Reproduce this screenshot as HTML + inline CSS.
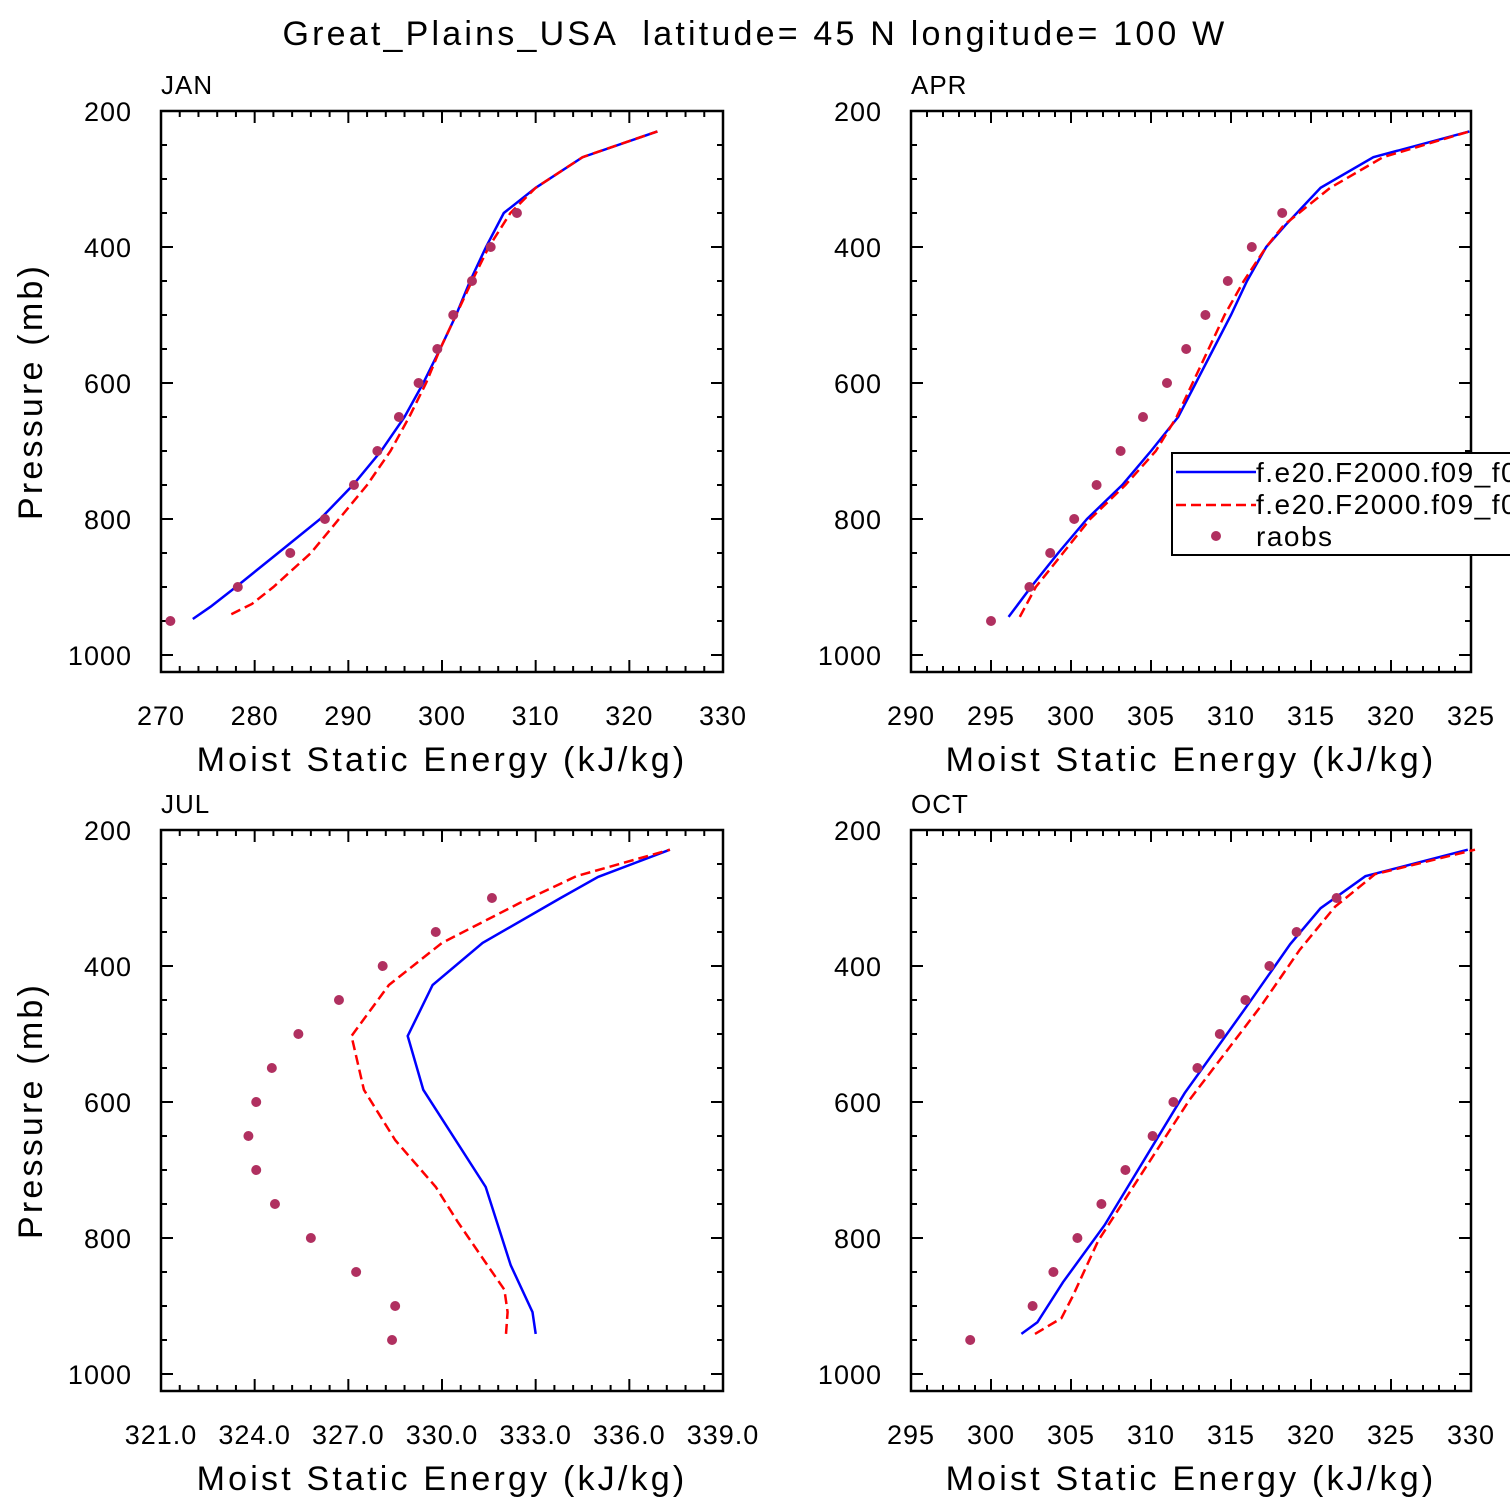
<!DOCTYPE html>
<html><head><meta charset="utf-8"><style>
body{margin:0;background:#fff}
svg{display:block;font-family:"Liberation Sans",sans-serif}
</style></head><body>
<svg id="c" width="1510" height="1510" viewBox="0 0 1510 1510" xmlns="http://www.w3.org/2000/svg">
<text x="755" y="45" font-size="34" text-anchor="middle" letter-spacing="3.2" style="white-space:pre">Great_Plains_USA  latitude= 45 N longitude= 100 W</text>
</svg>
<script>
// JAN
const janBlueP=[947,929,900,850,800,750,700,650,600,550,500,450,400,350,313,268,230];
const janBlueX=[273.4,275.3,278,282.5,287,290.5,293.5,296,298,299.8,301.5,303,304.7,306.6,310,315,323];
const janRedP=[940,925,900,850,800,750,700,650,600,550,500,450,400,350,313,268,230];
const janRedX=[277.5,279.7,282,286,289,292,294.5,296.5,298.3,299.8,301.5,303.2,305,307.3,310,315,323];
const janObsP=[950,900,850,800,750,700,650,600,550,500,450,400,350];
const janObsX=[271,278.2,283.8,287.5,290.6,293.1,295.4,297.5,299.5,301.2,303.2,305.2,308];
// APR
const aprBlueP=[944,900,850,800,750,700,650,600,550,500,450,400,368,313,268,230];
const aprBlueX=[296.1,297.5,299.2,301.0,303.2,305.0,306.7,307.8,308.9,310.0,311.0,312.2,313.4,315.6,318.9,324.9];
const aprRedP=[944,900,850,800,750,700,650,600,550,500,450,400,368,313,268,230];
const aprRedX=[296.8,297.8,299.5,301.2,303.4,305.3,306.6,307.6,308.6,309.6,310.8,312.2,313.3,316.2,319.5,324.9];
const aprObsP=[950,900,850,800,750,700,650,600,550,500,450,400,350];
const aprObsX=[295.0,297.4,298.7,300.2,301.6,303.1,304.5,306.0,307.2,308.4,309.8,311.3,313.2];
// JUL
const julBlueP=[941,909,840,725,582,503,428,366,300,269,229];
const julBlueX=[333.0,332.9,332.2,331.4,329.4,328.9,329.7,331.3,333.8,335.0,337.3];
const julRedP=[941,909,876,843,776,725,656,582,503,428,366,307,268,229];
const julRedX=[332.05,332.1,332.0,331.5,330.5,329.8,328.5,327.5,327.1,328.3,330.0,332.5,334.3,337.3];
const julObsP=[950,900,850,800,750,700,650,600,550,500,450,400,350,300];
const julObsX=[328.4,328.5,327.25,325.8,324.65,324.05,323.8,324.05,324.55,325.4,326.7,328.1,329.8,331.6];
// OCT
const octBlueP=[941,924,865,781,587,462,368,315,268,229];
const octBlueX=[301.9,302.9,304.5,307.1,312.1,315.9,318.7,320.6,323.4,329.8];
const octRedP=[941,918,886,804,597,458,376,313,265,229];
const octRedX=[302.75,304.4,305.1,306.7,312.4,316.9,319.3,321.5,324.0,330.25];
const octObsP=[950,900,850,800,750,700,650,600,550,500,450,400,350,300];
const octObsX=[298.7,302.6,303.9,305.4,306.9,308.4,310.1,311.4,312.9,314.3,315.9,317.4,319.1,321.6];

const NS='http://www.w3.org/2000/svg';
const svg=document.getElementById('c');
function mk(tag,attrs,parent){const e=document.createElementNS(NS,tag);for(const k in attrs)e.setAttribute(k,attrs[k]);(parent||svg).appendChild(e);return e;}

const panels=[
 {id:'jan',label:'JAN',x0:161,x1:723,y0:111,xmin:270,xmax:330,maj:10,min:2,dec:0,bx:janBlueX,bp:janBlueP,rx:janRedX,rp:janRedP,ox:janObsX,op:janObsP,ylab:true},
 {id:'apr',label:'APR',x0:911,x1:1471,y0:111,xmin:290,xmax:325,maj:5,min:1,dec:0,bx:aprBlueX,bp:aprBlueP,rx:aprRedX,rp:aprRedP,ox:aprObsX,op:aprObsP,ylab:false,legend:true},
 {id:'jul',label:'JUL',x0:161,x1:723,y0:830,xmin:321,xmax:339,maj:3,min:0.6,dec:1,bx:julBlueX,bp:julBlueP,rx:julRedX,rp:julRedP,ox:julObsX,op:julObsP,ylab:true},
 {id:'oct',label:'OCT',x0:911,x1:1471,y0:830,xmin:295,xmax:330,maj:5,min:1,dec:0,bx:octBlueX,bp:octBlueP,rx:octRedX,rp:octRedP,ox:octObsX,op:octObsP,ylab:false}
];
const pxPerMb=0.68, pTop=200, pBot=1025;

panels.forEach(P=>{
 const g=mk('g',{});
 
 
 const sx=v=>P.x0+(v-P.xmin)/(P.xmax-P.xmin)*(P.x1-P.x0);
 const sy=p=>P.y0+(p-pTop)*pxPerMb;
 const yb=sy(pBot);
 const box=mk('rect',{x:P.x0,y:P.y0,width:P.x1-P.x0,height:yb-P.y0,fill:'none',stroke:'#000','stroke-width':2.5},g);
 
 
 const lab=mk('text',{x:P.x0,y:P.y0-17,'font-size':26,'letter-spacing':1},g);lab.textContent=P.label;
 
 
 const n=Math.round((P.xmax-P.xmin)/P.min);
 for(let i=0;i<=n;i++){
  const v=P.xmin+i*P.min, X=sx(v);
  const major=Math.abs(((v-P.xmin)/P.maj)-Math.round((v-P.xmin)/P.maj))<1e-6;
  const L=major?12:6;
  mk('line',{x1:X,y1:yb,x2:X,y2:yb-L,stroke:'#000','stroke-width':2},g);
  mk('line',{x1:X,y1:P.y0,x2:X,y2:P.y0+L,stroke:'#000','stroke-width':2},g);
  if(major){const t=mk('text',{x:X,y:yb+53,'font-size':27,'letter-spacing':1,'text-anchor':'middle'},g);t.textContent=v.toFixed(P.dec);
   
   }
 }
 for(let p=200;p<=1000;p+=50){
  const Y=sy(p), major=p%200===0, L=major?12:6;
  mk('line',{x1:P.x0,y1:Y,x2:P.x0+L,y2:Y,stroke:'#000','stroke-width':2},g);
  mk('line',{x1:P.x1,y1:Y,x2:P.x1-L,y2:Y,stroke:'#000','stroke-width':2},g);
  if(major){const t=mk('text',{x:P.x0-29,y:Y+10,'font-size':27,'letter-spacing':1,'text-anchor':'end'},g);t.textContent=p;
   
   }
 }
 const xt=mk('text',{x:(P.x0+P.x1)/2,y:yb+99,'font-size':34,'text-anchor':'middle','letter-spacing':3.2},g);xt.textContent='Moist Static Energy (kJ/kg)';
 
 
 if(P.ylab){const cy=(P.y0+yb)/2;const t=mk('text',{x:0,y:0,'font-size':34,'text-anchor':'middle','letter-spacing':3.2,transform:`translate(42,${cy}) rotate(-90)`},g);t.textContent='Pressure (mb)';
  
  }
 const path=(xs,ps)=>xs.map((v,i)=>(i?'L':'M')+sx(v).toFixed(1)+' '+sy(ps[i]).toFixed(1)).join(' ');
 const b=mk('path',{d:path(P.bx,P.bp),fill:'none',stroke:'#0000ff','stroke-width':2.5},g);
 
 
 const r=mk('path',{d:path(P.rx,P.rp),fill:'none',stroke:'#ff0000','stroke-width':2.5,'stroke-dasharray':'10 5'},g);
 
 
 P.ox.forEach((v,i)=>{const c=mk('circle',{cx:sx(v),cy:sy(P.op[i]),r:5,fill:'#b03060'},g);
  
  });
 if(P.legend){
  const lg=mk('g',{},g);
  
  
  mk('rect',{x:1172,y:453,width:360,height:102,fill:'#fff',stroke:'#000','stroke-width':2},lg);
  mk('line',{x1:1176,y1:472,x2:1256,y2:472,stroke:'#0000ff','stroke-width':2.5},lg);
  mk('line',{x1:1176,y1:505,x2:1256,y2:505,stroke:'#ff0000','stroke-width':2.5,'stroke-dasharray':'10 5'},lg);
  mk('circle',{cx:1216,cy:536,r:5,fill:'#b03060'},lg);
  const names=['f.e20.F2000.f09_f09','f.e20.F2000.f09_f09','raobs'];
  names.forEach((s,i)=>{const t=mk('text',{x:1256,y:482+i*32,'font-size':28,'letter-spacing':1.5},lg);t.textContent=s;
   
   });
 }
});
</script>
</body></html>
